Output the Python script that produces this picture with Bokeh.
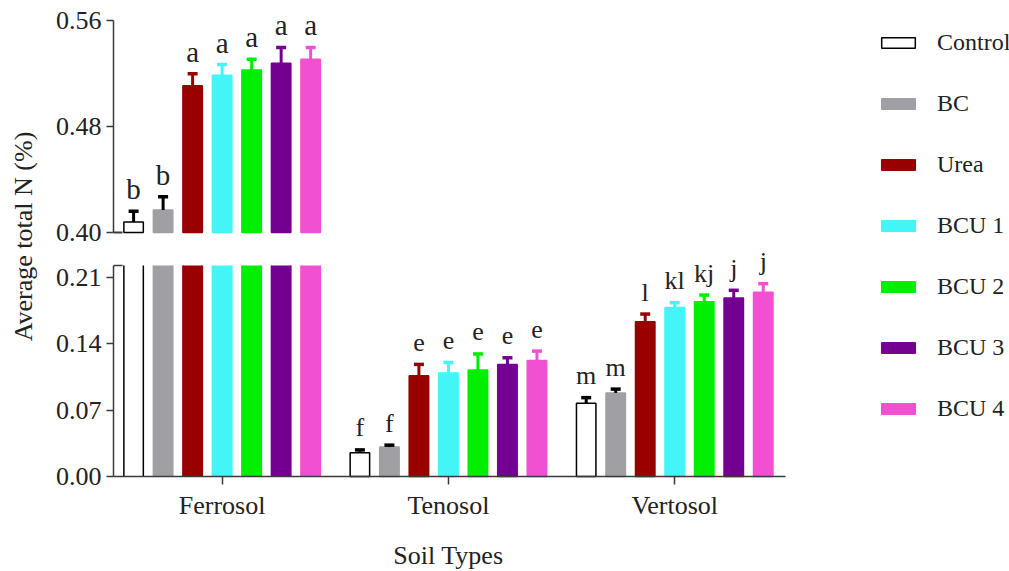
import math
from bokeh.plotting import figure
from bokeh.models import (Range1d, LinearAxis, FixedTicker, PrintfTickFormatter,
                          ColumnDataSource, Legend, LegendItem, Label)
from bokeh.core.properties import value
from bokeh.embed import file_html
from bokeh.resources import INLINE

# ---- data: average total N (%) per soil, treatment order as in `treatments`
soils = ["Ferrosol", "Tenosol", "Vertosol"]
treatments = ["Control", "BC", "Urea", "BCU 1", "BCU 2", "BCU 3", "BCU 4"]

ferrosol_mean = [0.408, 0.417, 0.511, 0.519, 0.523, 0.528, 0.531]
ferrosol_se = [0.008, 0.010, 0.009, 0.008, 0.008, 0.012, 0.009]
tenosol_mean = [0.025, 0.031, 0.106, 0.109, 0.112, 0.118, 0.122]
tenosol_se = [0.003, 0.002, 0.012, 0.011, 0.017, 0.007, 0.010]
vertosol_mean = [0.077, 0.088, 0.163, 0.178, 0.184, 0.188, 0.194]
vertosol_se = [0.006, 0.004, 0.008, 0.005, 0.007, 0.008, 0.009]

ferrosol_letters = ["b", "b", "a", "a", "a", "a", "a"]
tenosol_letters = ["f", "f", "e", "e", "e", "e", "e"]
vertosol_letters = ["m", "m", "l", "kl", "kj", "j", "j"]

lower_ticks = [0.00, 0.07, 0.14, 0.21]
upper_ticks = [0.40, 0.48, 0.56]

# ---- styling
fills = ["#FFFFFF", "#A0A0A4", "#990000", "#44F5F7", "#00EE00", "#740092", "#F250D2"]
outlines = ["#000000", "#A0A0A4", "#990000", "#44F5F7", "#00EE00", "#740092", "#F250D2"]
err_colors = ["#000000", "#000000", "#990000", "#44F5F7", "#00EE00", "#740092", "#F250D2"]
FONT = "Liberation Serif"
INK = "#222222"
AXIS_INK = "#3a3a3a"

# ---- geometry: the frame covers the whole canvas, axes sit at fixed locations
W, H = 1009, 571
X_PPU, AXIS_X, AXIS_X_PX = 226.3, -0.48, 113      # x scale, y-axis position
X_AXIS_END = 2.49
LOW_PPU, LOW_ZERO_PX = 950.0, 476                 # lower y segment
UP_PPU, UP_BASE_PX = 1321.9, 232                  # upper y segment
LOW_MAX = 0.222                                   # top of lower segment (break)
UP_MIN, UP_MAX = 0.40, 0.56
PITCH, BAR_W = 0.1304, 0.086
LETTER_GAP_PX = 22
BREAK_MARK_PX = 9

x_range = Range1d(AXIS_X - AXIS_X_PX / X_PPU, AXIS_X + (W - AXIS_X_PX) / X_PPU)
low_range = Range1d(-(H - LOW_ZERO_PX) / LOW_PPU, LOW_ZERO_PX / LOW_PPU)
up_range = Range1d(UP_MIN - (H - UP_BASE_PX) / UP_PPU, UP_MIN + UP_BASE_PX / UP_PPU)

means = [ferrosol_mean, tenosol_mean, vertosol_mean]
ses = [ferrosol_se, tenosol_se, vertosol_se]
letters = [ferrosol_letters, tenosol_letters, vertosol_letters]

p = figure(width=W, height=H, output_backend="svg", toolbar_location=None,
           x_range=x_range, y_range=low_range,
           x_axis_location=None, y_axis_location=None,
           min_border_left=0, min_border_right=0, min_border_top=0,
           min_border_bottom=0)
p.extra_y_ranges = {"upper": up_range}
p.outline_line_color = None
p.xgrid.visible = False
p.ygrid.visible = False
p.background_fill_color = "white"


def style_axis(ax):
    ax.axis_line_color = AXIS_INK
    ax.axis_line_width = 1.5
    ax.major_tick_line_color = AXIS_INK
    ax.major_tick_line_width = 1.5
    ax.major_tick_in = 0
    ax.major_tick_out = 7
    ax.minor_tick_line_color = None
    ax.major_label_text_font = FONT
    ax.major_label_text_font_size = "26px"
    ax.major_label_text_color = INK


lower_axis = LinearAxis(ticker=FixedTicker(ticks=lower_ticks), bounds=(0, LOW_MAX),
                        formatter=PrintfTickFormatter(format="%.2f"),
                        fixed_location=AXIS_X)
upper_axis = LinearAxis(y_range_name="upper", ticker=FixedTicker(ticks=upper_ticks),
                        bounds=(UP_MIN, UP_MAX),
                        formatter=PrintfTickFormatter(format="%.2f"),
                        fixed_location=AXIS_X)
for ax in (lower_axis, upper_axis):
    style_axis(ax)
    ax.major_label_standoff = 5
p.add_layout(lower_axis, "left")
p.add_layout(upper_axis, "left")

# short caps marking the axis break
mark_x1 = AXIS_X + BREAK_MARK_PX / X_PPU
p.segment(x0=[AXIS_X], y0=[UP_MIN], x1=[mark_x1], y1=[UP_MIN], y_range_name="upper",
          line_color=AXIS_INK, line_width=2)
p.segment(x0=[AXIS_X], y0=[LOW_MAX], x1=[mark_x1], y1=[LOW_MAX],
          line_color=AXIS_INK, line_width=1.5)

x_axis = LinearAxis(ticker=FixedTicker(ticks=[0, 1, 2]), bounds=(AXIS_X, X_AXIS_END),
                    major_label_overrides={i: s for i, s in enumerate(soils)},
                    fixed_location=0)
style_axis(x_axis)
x_axis.major_tick_out = 8
x_axis.major_label_standoff = 6
p.add_layout(x_axis, "below")

legend_items = []
for t, name in enumerate(treatments):
    xs = [s + (t - 3) * PITCH for s in range(len(soils))]
    vals = [means[s][t] for s in range(len(soils))]
    errs = [ses[s][t] for s in range(len(soils))]
    labs = [letters[s][t] for s in range(len(soils))]

    # lower segment: full bars, and bars cut at the break (open at the top)
    whole = [i for i, v in enumerate(vals) if v <= LOW_MAX]
    cut = [i for i, v in enumerate(vals) if v > LOW_MAX]
    low = ColumnDataSource(dict(x=[xs[i] for i in whole], top=[vals[i] for i in whole]))
    r_low = p.vbar(x="x", top="top", bottom=0, width=BAR_W, source=low,
                   fill_color=fills[t], line_color=outlines[t], line_width=1.5)
    legend_items.append(LegendItem(label=name, renderers=[r_low]))
    if cut:
        cut_src = ColumnDataSource(dict(
            x=[xs[i] for i in cut],
            xl=[xs[i] - BAR_W / 2 for i in cut],
            xr=[xs[i] + BAR_W / 2 for i in cut]))
        p.vbar(x="x", top=LOW_MAX, bottom=0, width=BAR_W, source=cut_src,
               fill_color=fills[t], line_color=None)
        for side in ("xl", "xr"):
            p.segment(x0=side, y0=0, x1=side, y1=LOW_MAX, source=cut_src,
                      line_color=outlines[t], line_width=1.5)

    hi_idx = [i for i, v in enumerate(vals) if v >= UP_MIN]
    lo_idx = [i for i, v in enumerate(vals) if v < UP_MIN]
    if hi_idx:
        hi = ColumnDataSource(dict(x=[xs[i] for i in hi_idx], top=[vals[i] for i in hi_idx]))
        p.vbar(x="x", top="top", bottom=UP_MIN, width=BAR_W, source=hi,
               y_range_name="upper", fill_color=fills[t], line_color=outlines[t],
               line_width=1.5)

    for idx, rng, ppu, fsize in ((hi_idx, "upper", UP_PPU, "29px"),
                                 (lo_idx, "default", LOW_PPU, "26px")):
        if not idx:
            continue
        src = ColumnDataSource(dict(
            x=[xs[i] for i in idx],
            y0=[vals[i] for i in idx],
            y1=[vals[i] + errs[i] for i in idx],
            ly=[vals[i] + errs[i] + LETTER_GAP_PX / ppu for i in idx],
            lab=[labs[i] for i in idx]))
        p.segment(x0="x", y0="y0", x1="x", y1="y1", source=src, y_range_name=rng,
                  line_color=err_colors[t], line_width=3)
        p.scatter(x="x", y="y1", source=src, y_range_name=rng, marker="dash",
                  size=10, line_color=err_colors[t], line_width=3.5)
        p.text(x="x", y="ly", text="lab", source=src, y_range_name=rng,
               text_font=value(FONT), text_font_size=fsize, text_color=INK,
               text_align="center", text_baseline="alphabetic")

legend = Legend(items=legend_items, location=(877, 148), orientation="vertical",
                glyph_width=42, glyph_height=13, label_height=30, spacing=31,
                label_standoff=18, padding=0, margin=0,
                label_text_font=FONT, label_text_font_size="24px",
                label_text_color=INK, border_line_color=None,
                background_fill_alpha=0)
p.add_layout(legend, "center")

# axis titles
p.add_layout(Label(x=AXIS_X - 90 / X_PPU, y=(LOW_ZERO_PX - 236) / LOW_PPU,
                   text="Average total N (%)", angle=math.pi / 2,
                   text_font=FONT, text_font_size="26px", text_color=INK,
                   text_align="center", text_baseline="middle"))
p.add_layout(Label(x=1.0, y=(LOW_ZERO_PX - 555) / LOW_PPU, text="Soil Types",
                   text_font=FONT, text_font_size="26px", text_color=INK,
                   text_align="center", text_baseline="middle"))

open("out.html", "w").write(file_html(p, INLINE))
